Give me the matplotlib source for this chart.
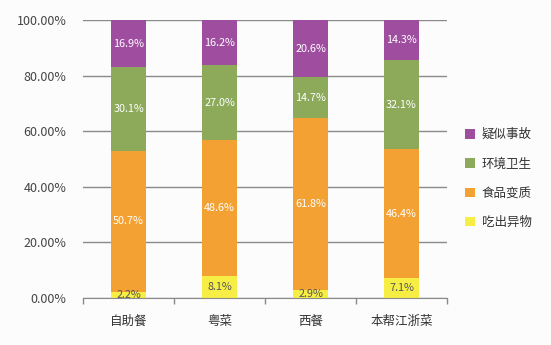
import numpy as np
import matplotlib.pyplot as plt
from matplotlib.ticker import FixedLocator, PercentFormatter

plt.rcParams['font.family'] = ['Noto Sans CJK SC', 'DejaVu Sans']

categories = ["自助餐", "粤菜", "西餐", "本帮江浙菜"]
series_names = ["吃出异物", "食品变质", "环境卫生", "疑似事故"]
foreign = [2.2, 8.1, 2.9, 7.1]
spoiled = [50.7, 48.6, 61.8, 46.4]
hygiene = [30.1, 27.0, 14.7, 32.1]
accident = [16.9, 16.2, 20.6, 14.3]
colors = ["#f7ee45", "#f4a133", "#8caa5a", "#9f4d9f"]
label_colors = ["#555555", "white", "white", "white"]

fig = plt.figure(figsize=(5.51, 3.45), dpi=100, facecolor="#fcfcfc")
ax = fig.add_axes([0.151, 0.136, 0.66, 0.806])
ax.set_facecolor("#fcfcfc")

x = np.arange(len(categories))
bottom = np.zeros(len(categories))
handles = []
for vals, name, c, lc in zip([foreign, spoiled, hygiene, accident],
                             series_names, colors, label_colors):
    vals = np.array(vals)
    b = ax.bar(x, vals, 0.39, bottom=bottom, color=c, label=name, zorder=3)
    handles.append(b)
    for xi, v, b0 in zip(x, vals, bottom):
        ax.text(xi, b0 + v / 2, f"{v:.1f}%", ha="center", va="center",
                color=lc, fontsize=7.8, zorder=4)
    bottom += vals

ax.set_xlim(-0.5, 3.5)
ax.set_ylim(0, 100)
ax.set_yticks(np.arange(0, 101, 20))
ax.yaxis.set_major_formatter(PercentFormatter(decimals=2))
ax.grid(axis="y", color="#8a8a8a", linewidth=1.0, zorder=1)
ax.tick_params(axis="y", length=0, labelsize=9, labelcolor="#444444", pad=12)

ax.set_xticks(x)
ax.set_xticklabels(categories)
ax.xaxis.set_minor_locator(FixedLocator([-0.5, 0.5, 1.5, 2.5, 3.5]))
ax.tick_params(axis="x", which="major", length=0, labelsize=9,
               labelcolor="#333333", pad=12)
ax.tick_params(axis="x", which="minor", length=4, color="#8a8a8a", width=1)

for side in ["left", "right", "top"]:
    ax.spines[side].set_visible(False)
ax.spines["bottom"].set_color("#8a8a8a")
ax.spines["bottom"].set_zorder(5)

leg = ax.legend(handles[::-1], series_names[::-1], loc="center left",
                bbox_to_anchor=(1.02, 0.43), frameon=False, fontsize=9,
                handlelength=0.8, handleheight=0.8, labelspacing=1.3,
                handletextpad=0.5)
for t in leg.get_texts():
    t.set_color("#333333")

fig.savefig("out.png", dpi=100, facecolor=fig.get_facecolor())
